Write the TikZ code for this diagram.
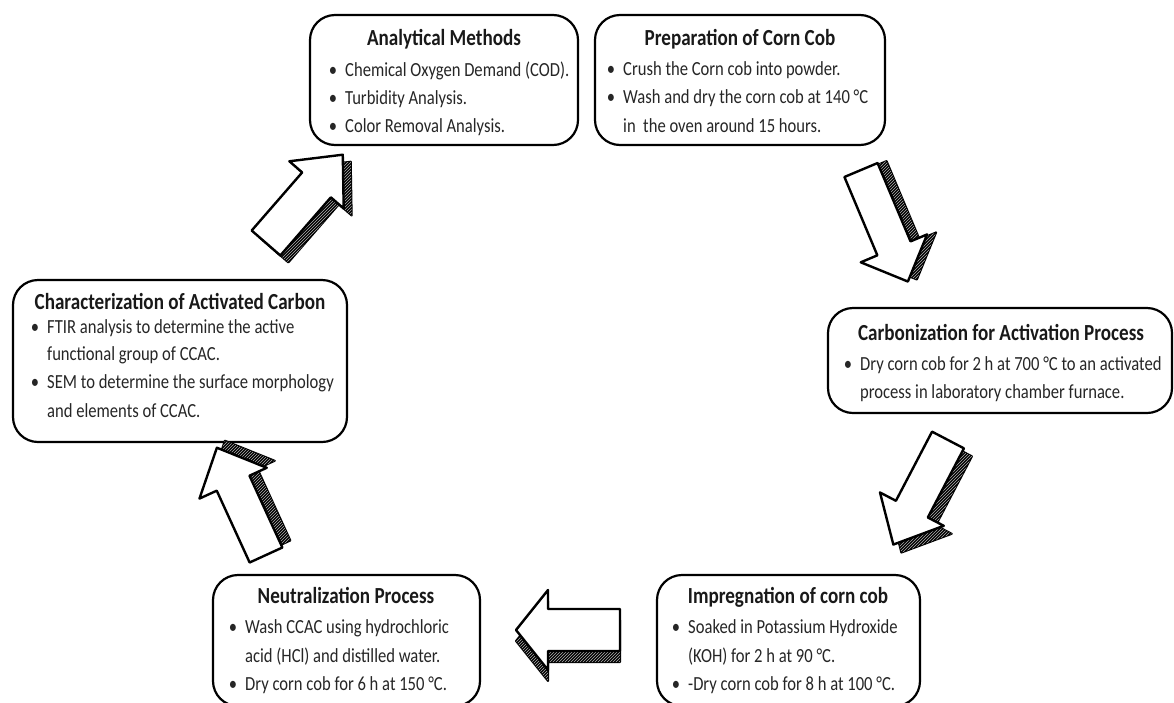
\documentclass[tikz,border=0pt]{standalone}
\usepackage{fontspec}
\setmainfont{Carlito}[FakeStretch=0.83]
\usetikzlibrary{patterns}
\newcommand{\bodyfont}{\fontsize{20}{24}\selectfont}
\newcommand{\ttlfont}{\fontsize{23}{28}\selectfont\bfseries}
\newcommand{\bul}{\llap{\textbullet\hspace{8pt}}}
\tikzset{
  box/.style={draw=black, line width=2.2pt, rounded corners=25pt, fill=white, inner sep=0pt},
  ttl/.style={font=\ttlfont, anchor=base, inner sep=0pt, text=black!90},
  ln/.style={font=\bodyfont, anchor=base west, inner sep=0pt, text=black!85},
  arrowshadow/.style={fill=black, draw=black, line width=2pt, line join=round,
    postaction={pattern=north east lines, pattern color=white!70!black}},
  arrowbody/.style={fill=white, draw=black, line width=2.4pt, line join=round},
}
% #1 x, #2 y (tail centre), #3 angle, #4 shaft length, #5 head length,
% #6 shaft half width, #7 head half width, #8 dx, #9 dy (extrusion)
\newcommand{\blkarrow}[9]{%
  \begin{scope}[shift={({#1+#8},{#2+#9})},rotate=#3]
    \path[arrowshadow] (0,-#6) -- (#4,-#6) -- (#4,-#7) -- ({#4+#5},0) -- (#4,#7) -- (#4,#6) -- (0,#6) -- cycle;
  \end{scope}
  \begin{scope}[shift={(#1,#2)},rotate=#3]
    \path[arrowbody] (0,-#6) -- (#4,-#6) -- (#4,-#7) -- ({#4+#5},0) -- (#4,#7) -- (#4,#6) -- (0,#6) -- cycle;
  \end{scope}}
\begin{document}
\begin{tikzpicture}[x=1pt,y=-1pt]
\clip (0,0) rectangle (1174,702);
\fill[white] (0,0) rectangle (1174,702);

% boxes
\node[box, minimum width=268pt, minimum height=130pt] (am) at (444,80) {};
\node[box, minimum width=290pt, minimum height=130pt] (pc) at (740,80) {};
\node[box, minimum width=334pt, minimum height=162pt] (ch) at (180,361) {};
\node[box, minimum width=344pt, minimum height=105pt] (cb) at (1000,360.5) {};
\node[box, minimum width=267pt, minimum height=131pt] (ne) at (346.5,640.5) {};
\node[box, minimum width=263pt, minimum height=131pt] (im) at (788.5,640.5) {};

% Analytical Methods
\node[ttl] (amt) at (444,45) {Analytical Methods};
\node[ln] (am1) at (345,76) {\bul Chemical Oxygen Demand (COD).};
\node[ln] (am2) at (345,104) {\bul Turbidity Analysis.};
\node[ln] (am3) at (345,132) {\bul Color Removal Analysis.};

% Preparation of Corn Cob
\node[ttl] (pct) at (740,45) {Preparation of Corn Cob};
\node[ln] (pc1) at (623,75) {\bul Crush the Corn cob into powder.};
\node[ln] (pc2) at (623,103) {\bul Wash and dry the corn cob at 140 °C};
\node[ln] (pc3) at (623,132) {in\ \ the oven around 15 hours.};

% Characterization
\node[ttl] (cht) at (180,309) {Characterization of Activated Carbon};
\node[ln] (ch1) at (47,333) {\bul FTIR analysis to determine the active};
\node[ln] (ch2) at (47,360) {functional group of CCAC.};
\node[ln] (ch3) at (47,388) {\bul SEM to determine the surface morphology};
\node[ln] (ch4) at (47,417) {and elements of CCAC.};

% Carbonization
\node[ttl] (cbt) at (1001,340) {Carbonization for Activation Process};
\node[ln] (cb1) at (860,370) {\bul Dry corn cob for 2 h at 700 °C to an activated};
\node[ln] (cb2) at (860,398) {process in laboratory chamber furnace.};

% Neutralization
\node[ttl] (net) at (346,603) {Neutralization Process};
\node[ln] (ne1) at (245,633) {\bul Wash CCAC using hydrochloric};
\node[ln] (ne2) at (245,662) {acid (HCl) and distilled water.};
\node[ln] (ne3) at (245,690) {\bul Dry corn cob for 6 h at 150 °C.};

% Impregnation
\node[ttl] (imt) at (788,603) {Impregnation of corn cob};
\node[ln] (im1) at (688,633) {\bul Soaked in Potassium Hydroxide};
\node[ln] (im2) at (688,662) {(KOH) for 2 h at 90 °C.};
\node[ln] (im3) at (688,690) {\bul -Dry corn cob for 8 h at 100 °C.};

% block arrows
\blkarrow{266}{243}{49}{77}{40}{19}{36}{8}{7}
\blkarrow{861}{170}{-67.2}{85}{36}{18}{36}{9}{-2}
\blkarrow{948}{440}{-117.6}{78}{40}{18}{36}{8}{8}
\blkarrow{620}{630}{180}{72}{32}{21}{40}{0}{11}
\blkarrow{266}{555}{114.6}{79}{39}{18}{37}{8}{-7}
\end{tikzpicture}
\end{document}
